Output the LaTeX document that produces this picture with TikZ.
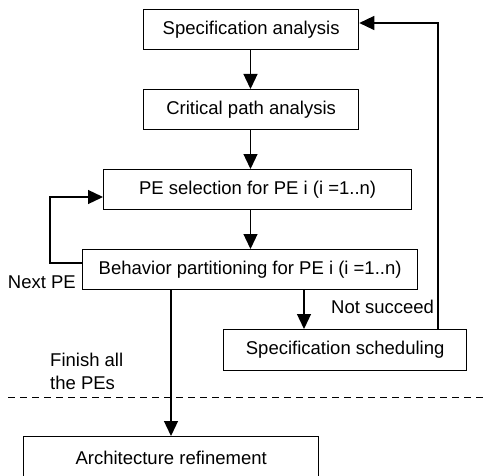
\documentclass[tikz,border=0pt]{standalone}
\usepackage{fontspec}
\setmainfont{Liberation Sans}
\usetikzlibrary{arrows.meta}
\begin{document}
\begin{tikzpicture}[x=1pt,y=-1pt,
  every node/.style={font=\fontsize{18.5}{23}\selectfont},
  stage/.style={draw, line width=1.3pt, inner sep=0pt, anchor=north west},
  flow/.style={line width=1.3pt, -{Triangle[length=15pt,width=14pt]}},
  plain/.style={line width=1.3pt},
  note/.style={inner sep=0pt}]
\useasboundingbox (0,0) rectangle (487,476);

% process stages
\node[stage, minimum width=215pt, minimum height=40pt] (spec) at (143,9) {Specification analysis};
\node[stage, minimum width=215pt, minimum height=40pt] (crit) at (143,89) {Critical path analysis};
\node[stage, minimum width=308pt, minimum height=40pt] (sel) at (103,169) {PE selection for PE i (i =1..n)};
\node[stage, minimum width=335pt, minimum height=40pt] (part) at (82,249) {Behavior partitioning for PE i (i =1..n)};
\node[stage, minimum width=243pt, minimum height=41pt] (sched) at (223,329) {Specification scheduling};
\node[stage, minimum width=295pt, minimum height=42pt] (arch) at (23,436) {Architecture refinement};

% main flow, all on one vertical axis
\coordinate (mx) at (250.5,0);
\draw[flow] (spec.south -| mx) -- (crit.north -| mx);
\draw[flow] (crit.south -| mx) -- (sel.north -| mx);
\draw[flow] (sel.south -| mx) -- (part.north -| mx);

% loop back to the next PE
\coordinate (nl) at (50,263);
\coordinate (nu) at (50,197);
\draw[flow] (part.west |- nl) -- (nl) -- (nu) -- (sel.west |- nu);

% failed partitioning goes to scheduling, then back to the start
\coordinate (sx) at (304,0);
\draw[flow] (part.south -| sx) -- (sched.north -| sx);
\coordinate (rx) at (438,23);
\draw[flow] (sched.north -| rx) -- (rx) -- (spec.east |- rx);

% all PEs done
\coordinate (ax) at (171,0);
\draw[flow] (part.south -| ax) -- (arch.north -| ax);

% phase boundary
\coordinate (d1) at (8,397);
\coordinate (d2) at (487,397);
\draw[plain, line width=1pt, dash pattern=on 7pt off 5pt] (d1) -- (d2);

% labels
\node[note, anchor=east] (lnext) at (76,282) {Next PE};
\node[note, anchor=west] (lfail) at (331,307) {Not succeed};
\node[note, anchor=west, align=left] (ldone) at (50,371) {Finish all\\the PEs};
\end{tikzpicture}
\end{document}
